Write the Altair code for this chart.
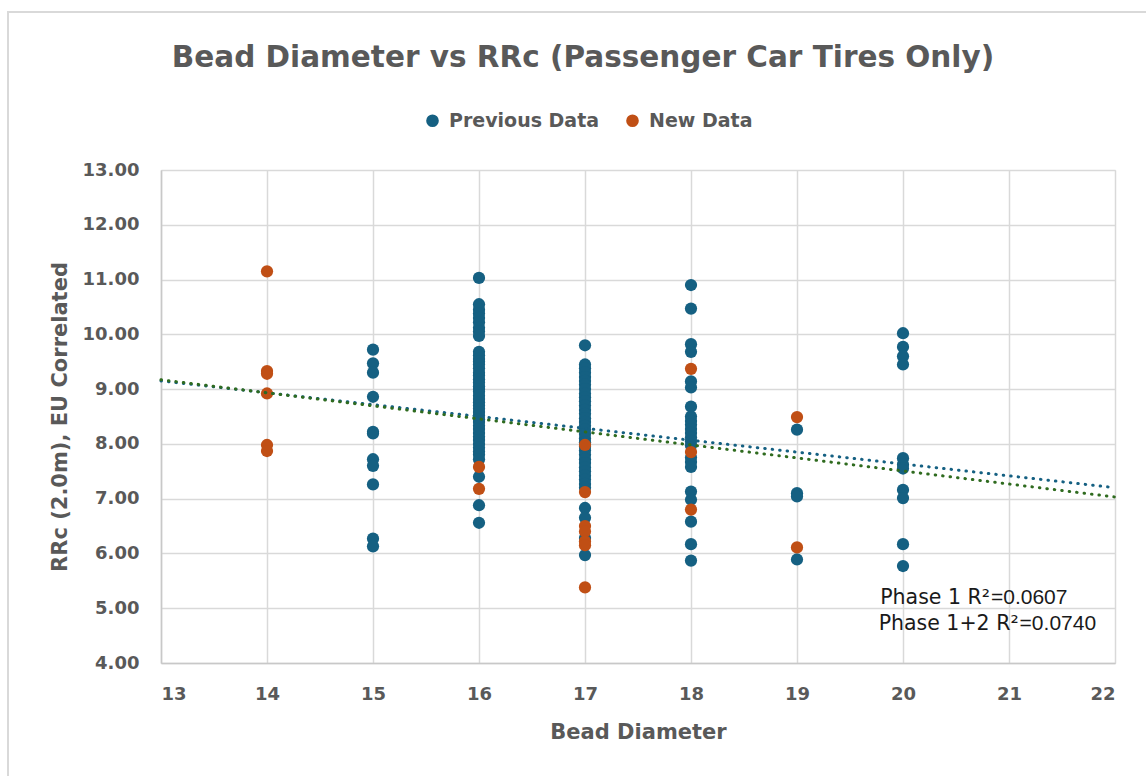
import altair as alt
import pandas as pd

# ---------------- data ----------------
prev_14 = []
new_14 = [11.15, 9.33, 9.28, 8.92, 7.98, 7.87]

prev_15 = [9.72, 9.47, 9.30, 8.86, 8.22, 8.19, 7.72, 7.60, 7.26, 6.27, 6.13]
new_15 = []

prev_16 = [11.03, 10.55, 10.45, 10.38, 10.30, 10.22, 10.12, 10.05, 9.97,
           9.68, 9.62, 9.55, 9.50, 9.45, 9.38, 9.30, 9.25, 9.18, 9.12, 9.05,
           9.00, 8.95, 8.88, 8.82, 8.76, 8.70, 8.64, 8.58, 8.52, 8.45, 8.40,
           8.33, 8.27, 8.20, 8.13, 8.07, 8.00, 7.93, 7.86, 7.80, 7.72, 7.40,
           6.88, 6.56]
new_16 = [7.58, 7.18]

prev_17 = [9.80, 9.45, 9.38, 9.30, 9.22, 9.15, 9.08, 9.00, 8.92, 8.85, 8.78,
           8.70, 8.62, 8.55, 8.47, 8.40, 8.33, 8.26, 8.18, 8.10, 8.03, 7.95,
           7.88, 7.80, 7.72, 7.65, 7.57, 7.50, 7.42, 7.35, 7.27, 7.20, 6.83,
           6.65, 6.28, 5.97]
new_17 = [7.98, 7.12, 6.50, 6.40, 6.22, 6.15, 5.38]

prev_18 = [10.90, 10.47, 9.82, 9.68, 9.14, 9.03, 8.68, 8.50, 8.42, 8.35, 8.27,
           8.20, 8.12, 8.05, 7.97, 7.75, 7.67, 7.58, 7.13, 6.98, 6.58, 6.17,
           5.87]
new_18 = [9.37, 7.85, 6.80]

prev_19 = [8.26, 7.10, 7.04, 5.89]
new_19 = [8.49, 6.11]

prev_20 = [10.02, 9.77, 9.60, 9.45, 7.74, 7.62, 7.55, 7.16, 7.01, 6.17, 5.77]
new_20 = []

diameters = [14, 15, 16, 17, 18, 19, 20]
prev_by_d = [prev_14, prev_15, prev_16, prev_17, prev_18, prev_19, prev_20]
new_by_d = [new_14, new_15, new_16, new_17, new_18, new_19, new_20]

series_names = ["Previous Data", "New Data"]
series_colors = ["#156082", "#C04F15"]

# trendlines (Excel linear trendlines extended to axis bounds)
trend_x = [13, 22]
phase1_y = [9.15, 7.20]
phase12_y = [9.17, 7.03]

# R² annotations
ann_label = ["Phase 1 R²", "Phase 1+2 R²"]
ann_value = ["=0.0607", "=0.0740"]
ann_value_x = [20.83, 21.10]
ann_y = [5.08, 4.61]

chart_title = "Bead Diameter vs RRc (Passenger Car Tires Only)"

x_ticks = list(range(13, 23))
y_ticks = list(range(4, 14))

# ---------------- build tables ----------------
rows = []
for d, vals in zip(diameters, prev_by_d):
    for v in vals:
        rows.append({"diameter": d, "rrc": v, "series": series_names[0], "order": 0})
for d, vals in zip(diameters, new_by_d):
    for v in vals:
        rows.append({"diameter": d, "rrc": v, "series": series_names[1], "order": 1})
pts = pd.DataFrame(rows)

t1 = pd.DataFrame({"diameter": trend_x, "rrc": phase1_y})
t12 = pd.DataFrame({"diameter": trend_x, "rrc": phase12_y})
ann = pd.DataFrame({"label": ann_label, "value": ann_value,
                    "vx": ann_value_x, "y": ann_y})

W, H = 954, 493
PAD_L, PAD_T = 161, 170
PAD_R, PAD_B = 1146 - PAD_L - W, 776 - PAD_T - H

FONT = "DejaVu Sans"
GREY = "#595959"

xscale = alt.Scale(domain=[13, 22], nice=False, zero=False)
yscale = alt.Scale(domain=[4, 13], nice=False, zero=False)

xaxis = alt.Axis(values=x_ticks, format="d", title="Bead Diameter",
                 titleFontSize=21, titleFont=FONT, titleFontWeight="bold",
                 titleColor=GREY, labelFont=FONT, labelFontSize=18,
                 labelFontWeight="bold", labelColor=GREY, ticks=False,
                 tickSize=0, labelPadding=22, titlePadding=18,
                 domainColor="#c8c8c8", domainWidth=1.5,
                 gridColor="#d9d9d9", gridWidth=1.5)
yaxis = alt.Axis(values=y_ticks, format=".2f",
                 title="RRc (2.0m), EU Correlated",
                 titleFontSize=21, titleFont=FONT, titleFontWeight="bold",
                 titleColor=GREY, labelFont=FONT, labelFontSize=18,
                 labelFontWeight="bold", labelColor=GREY, ticks=False,
                 tickSize=0, labelPadding=22, titlePadding=12,
                 domainColor="#c8c8c8", domainWidth=1.5,
                 gridColor="#d9d9d9", gridWidth=1.5)

frame = alt.Chart(pd.DataFrame({"a": [0]})).mark_rect(
    fill=None, stroke="#d9d9d9", strokeWidth=2
).encode(
    x=alt.value(8 - PAD_L), x2=alt.value(1160 - PAD_L),
    y=alt.value(12 - PAD_T), y2=alt.value(790 - PAD_T)
)

title_mark = alt.Chart(pd.DataFrame({"t": [chart_title]})).mark_text(
    font=FONT, fontSize=29.5, fontWeight="bold", color=GREY,
    align="center", baseline="alphabetic"
).encode(x=alt.value(583 - PAD_L), y=alt.value(67 - PAD_T), text="t:N")

points = alt.Chart(pts).mark_circle(size=150, opacity=1).encode(
    x=alt.X("diameter:Q", scale=xscale, axis=xaxis),
    y=alt.Y("rrc:Q", scale=yscale, axis=yaxis),
    color=alt.Color("series:N",
                    scale=alt.Scale(domain=series_names, range=series_colors),
                    legend=alt.Legend(title=None, orient="none",
                                      legendX=262, legendY=-59,
                                      direction="horizontal",
                                      symbolType="circle", symbolSize=160,
                                      labelFont=FONT, labelFontSize=19,
                                      labelFontWeight="bold",
                                      labelColor=GREY, columnPadding=23,
                                      labelOffset=7)),
    order=alt.Order("order:Q"),
)

DOTS = [0.5, 7]
line1 = alt.Chart(t1).mark_line(strokeDash=DOTS, strokeWidth=3,
                                strokeCap="round", color="#156082").encode(
    x=alt.X("diameter:Q", scale=xscale), y=alt.Y("rrc:Q", scale=yscale))
line12 = alt.Chart(t12).mark_line(strokeDash=DOTS, strokeWidth=3,
                                  strokeCap="round", color="#2F6B1F").encode(
    x=alt.X("diameter:Q", scale=xscale), y=alt.Y("rrc:Q", scale=yscale))

ann_lbl = alt.Chart(ann).mark_text(align="right", baseline="alphabetic",
                                   font=FONT, fontSize=20.5, color="#1a1a1a",
                                   dx=-1).encode(
    x=alt.X("vx:Q", scale=xscale), y=alt.Y("y:Q", scale=yscale), text="label:N")
ann_val = alt.Chart(ann).mark_text(align="left", baseline="alphabetic",
                                   font="Liberation Sans", fontSize=21,
                                   color="#1a1a1a").encode(
    x=alt.X("vx:Q", scale=xscale), y=alt.Y("y:Q", scale=yscale), text="value:N")

chart = alt.layer(frame, title_mark, points, line1, line12, ann_lbl,
                  ann_val).properties(
    width=W, height=H,
    autosize=alt.AutoSizeParams(type="none"),
    padding={"left": PAD_L, "top": PAD_T, "right": PAD_R, "bottom": PAD_B},
).configure_view(stroke=None).configure(background="white")

chart.save("out.html", embed_options={"renderer": "svg", "actions": False})
